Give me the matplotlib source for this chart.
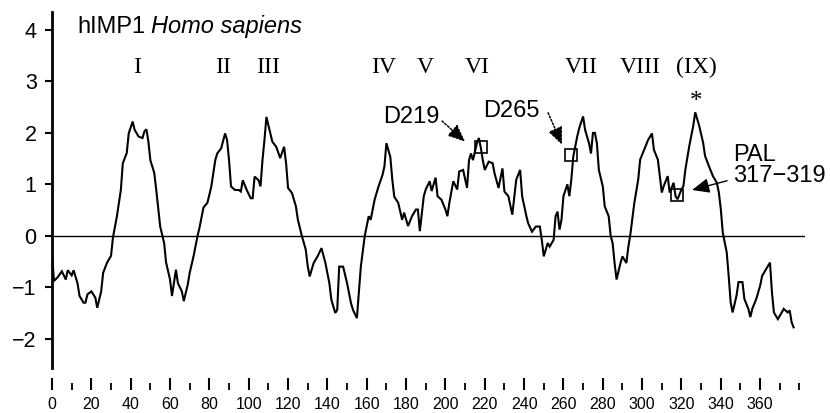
import matplotlib
matplotlib.use("Agg")
import matplotlib.pyplot as plt
from matplotlib.ticker import MultipleLocator

# ---- data (residue position, hydropathy value) ----
residue = [0, 1, 3, 5, 7, 8, 10, 11, 13, 14, 16, 17, 18, 20, 22, 23, 25, 26, 28, 30,
           31, 33, 35, 36, 38, 39, 41, 42, 44, 46, 47, 48, 49, 50, 52, 53, 55, 57, 58, 60,
           61, 63, 64, 66, 67, 69, 70, 72, 74, 75, 77, 79, 81, 83, 84, 86, 88, 89, 90, 91,
           93, 95, 96, 97, 99, 101, 102, 103, 105, 106, 107, 108, 109, 111, 112, 114, 116, 118, 119, 120,
           122, 124, 125, 127, 129, 130, 131, 133, 135, 137, 139, 141, 142, 144, 145, 146, 148, 150, 152, 153,
           155, 156, 157, 159, 161, 162, 164, 166, 168, 169, 170, 172, 173, 174, 176, 178, 179, 181, 183, 185,
           186, 187, 189, 190, 192, 193, 195, 196, 198, 200, 201, 202, 204, 206, 207, 209, 211, 212, 213, 214,
           216, 217, 218, 219, 220, 222, 224, 225, 227, 229, 230, 232, 234, 236, 238, 239, 241, 242, 244, 246,
           248, 249, 250, 252, 253, 255, 256, 257, 258, 259, 260, 262, 263, 264, 265, 267, 268, 270, 271, 273,
           274, 275, 276, 277, 278, 280, 281, 283, 284, 285, 286, 287, 289, 290, 292, 293, 294, 296, 298, 299,
           301, 303, 305, 306, 308, 309, 310, 311, 313, 314, 316, 317, 318, 320, 321, 322, 324, 326, 327, 329,
           331, 332, 334, 336, 338, 339, 340, 341, 343, 344, 345, 346, 348, 349, 351, 352, 354, 355, 356, 358,
           360, 361, 363, 365, 366, 367, 369, 371, 372, 374, 375, 376, 377]
hydropathy = [-0.35, -0.88, -0.80, -0.69, -0.85, -0.67, -0.77, -0.67, -0.93, -1.17, -1.30, -1.30, -1.14, -1.08, -1.20, -1.40, -1.08, -0.72, -0.52, -0.39,
              -0.03, 0.38, 0.89, 1.41, 1.61, 1.99, 2.22, 2.06, 1.93, 1.90, 2.03, 2.07, 1.83, 1.47, 1.22, 0.89, 0.18, -0.14, -0.52, -0.85,
              -1.17, -0.66, -0.92, -1.08, -1.27, -0.95, -0.72, -0.39, 0.00, 0.16, 0.55, 0.64, 0.96, 1.47, 1.60, 1.70, 1.99, 1.86, 1.47, 0.96,
              0.89, 0.89, 0.86, 1.08, 0.89, 0.73, 0.73, 1.15, 1.08, 0.96, 1.47, 1.86, 2.31, 1.99, 1.83, 1.73, 1.51, 1.73, 1.41, 0.93,
              0.83, 0.57, 0.31, 0.00, -0.27, -0.59, -0.79, -0.53, -0.40, -0.24, -0.53, -0.92, -1.24, -1.50, -1.44, -0.60, -0.60, -0.92, -1.31, -1.44,
              -1.60, -1.10, -0.60, 0.00, 0.38, 0.31, 0.70, 0.96, 1.18, 1.35, 1.80, 1.53, 1.09, 0.76, 0.64, 0.31, 0.45, 0.19, 0.38, 0.51,
              0.51, 0.09, 0.77, 0.90, 1.06, 0.87, 1.13, 0.77, 0.70, 0.51, 0.38, 0.64, 1.06, 0.90, 1.25, 1.28, 0.93, 1.47, 1.60, 1.47,
              1.80, 1.90, 1.71, 1.47, 1.28, 1.44, 1.41, 1.21, 0.93, 1.31, 0.86, 0.77, 0.41, 1.09, 1.28, 0.77, 0.41, 0.25, 0.08, 0.18,
              0.18, -0.08, -0.40, -0.14, -0.21, -0.08, 0.38, 0.47, 0.12, 0.31, 0.77, 1.00, 0.77, 1.09, 1.54, 1.93, 2.09, 2.32, 2.06, 1.80,
              1.60, 2.00, 2.00, 1.80, 1.28, 0.96, 0.57, 0.38, 0.00, -0.14, -0.53, -0.85, -0.53, -0.40, -0.53, -0.21, 0.02, 0.63, 1.09, 1.48,
              1.67, 1.86, 1.99, 1.67, 1.48, 1.16, 0.84, 0.97, 1.16, 0.84, 1.03, 0.77, 0.71, 0.90, 0.97, 1.29, 1.75, 2.14, 2.40, 2.14,
              1.81, 1.55, 1.35, 1.16, 1.03, 0.84, 0.52, 0.06, -0.32, -0.78, -1.29, -1.49, -1.16, -0.90, -0.90, -1.23, -1.42, -1.58, -1.42, -1.23,
              -0.97, -0.78, -0.65, -0.52, -1.10, -1.49, -1.62, -1.49, -1.42, -1.49, -1.45, -1.68, -1.78]

segment_labels = ["I", "II", "III", "IV", "V", "VI", "VII", "VIII", "(IX)"]
segment_pos = [43.2, 86.9, 109.8, 168.8, 189.6, 216.1, 269.0, 298.9, 327.4]

site_labels = ["D219", "D265"]
site_text_pos = [(168.3, 2.19), (219.1, 2.31)]
site_arrow_tail = [(198.3, 2.23), (252.2, 2.39)]
site_arrow_tip = [(210.0, 1.83), (259.3, 1.77)]
box_pos = [(218.0, 1.73), (263.9, 1.58), (317.8, 0.80)]

pal_label = "PAL\n317\u2212319"
y_ticks = [-2, -1, 0, 1, 2, 3, 4]
x_major = list(range(0, 361, 20))

# ---- figure ----
W, H = 830, 413
PX = 72 / 100  # points per pixel at dpi 100
fig = plt.figure(figsize=(W / 100, H / 100), dpi=100)
ax = fig.add_axes([52 / W, 1 - 368 / H, (805 - 52) / W, (368 - 12) / H])
sans = "Liberation Sans"
serif = "Liberation Serif"

ax.plot(residue, hydropathy, color="black", lw=1.5, solid_joinstyle="miter")
ax.axhline(0, color="black", lw=1.0)

ax.set_xlim(0, 382.8)
ax.set_ylim(-2.57, 4.35)

for s in ["top", "right"]:
    ax.spines[s].set_visible(False)
ax.spines["left"].set_linewidth(2.0)
ax.spines["bottom"].set_position(("outward", 22 * PX))
ax.spines["bottom"].set_color("none")

ax.set_yticks(y_ticks)
ax.set_yticklabels([f"{v}".replace("-", "\u2212") for v in y_ticks], fontfamily=sans, fontsize=15.5)
ax.tick_params(axis="y", direction="out", length=5, width=1.5, pad=6)

ax.set_xticks(x_major)
ax.set_xticklabels([str(v) for v in x_major], fontfamily=sans, fontsize=11.5)
ax.xaxis.set_minor_locator(MultipleLocator(10))
ax.tick_params(axis="x", which="major", direction="in", length=12 * PX, width=1.5, pad=5)
ax.tick_params(axis="x", which="minor", direction="in", length=7 * PX, width=1.3)

# title
t1 = ax.text(12.7, 3.94, "hIMP1", fontfamily=sans, fontsize=17, va="baseline", ha="left")
ax.annotate("Homo sapiens", xy=(1, 0), xycoords=t1, xytext=(4.5, 0), textcoords="offset points",
            fontfamily=sans, fontsize=17, style="italic", va="bottom", ha="left")

# segment numerals
for lab, xp in zip(segment_labels, segment_pos):
    ax.text(xp, 3.17, lab, fontfamily=serif, fontsize=17, ha="center", va="baseline")

ax.text(327.4, 2.6, "*", fontfamily=serif, fontsize=18, ha="center", va="center")

# site labels and arrows
for lab, tp, tail, tip in zip(site_labels, site_text_pos, site_arrow_tail, site_arrow_tip):
    ax.text(tp[0], tp[1], lab, fontfamily=sans, fontsize=17, ha="left", va="baseline")
    ax.annotate("", xy=tip, xytext=tail,
                arrowprops=dict(arrowstyle="-|>,head_length=0.7,head_width=0.3", mutation_scale=15,
                                color="black", lw=1.1, linestyle=(0, (1.2, 1.2)), shrinkA=0, shrinkB=0))

for bx, by in box_pos:
    ax.plot([bx], [by], marker="s", markersize=9, markerfacecolor="none",
            markeredgecolor="black", markeredgewidth=1.2)

ax.text(346.2, 1.05, pal_label, fontfamily=sans, fontsize=17, ha="left", va="baseline", linespacing=0.95)
ax.annotate("", xy=(325.4, 0.89), xytext=(343.2, 1.07),
            arrowprops=dict(arrowstyle="-|>,head_length=0.7,head_width=0.3", mutation_scale=15,
                            color="black", lw=1.0, shrinkA=0, shrinkB=0))

fig.savefig("out.png", dpi=100)
